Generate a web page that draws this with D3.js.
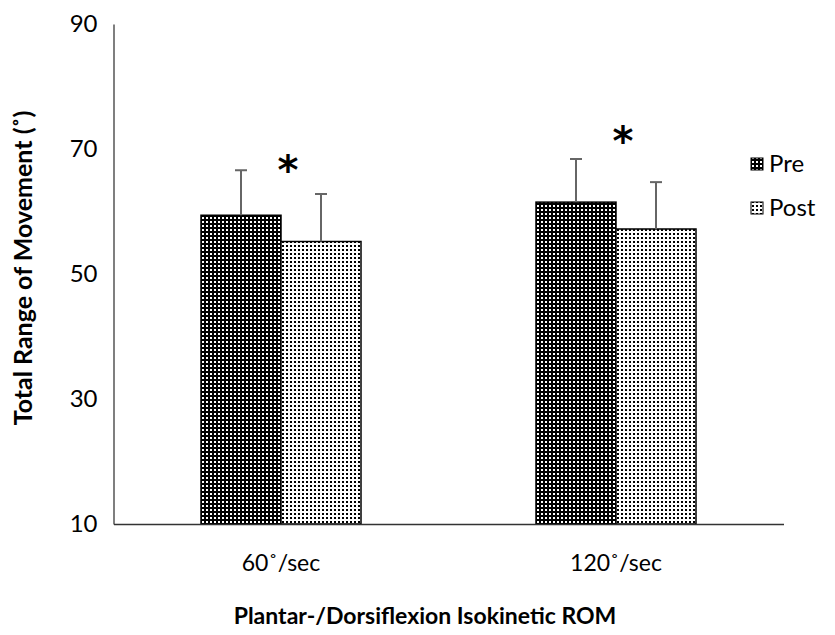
<!DOCTYPE html>
<html>
<head>
<meta charset="utf-8">
<script src="https://cdn.jsdelivr.net/npm/d3@7/dist/d3.min.js"></script>
<style>
  html, body { margin: 0; padding: 0; background: #fff; }
  svg { display: block; font-family: Lato, "Open Sans", sans-serif; }
</style>
</head>
<body>
<svg id="chart" width="835" height="635"></svg>
<script>
// Isokinetic plantar-/dorsiflexion range of movement, before and after
const categories = ["60˚/sec", "120˚/sec"];
const seriesNames = ["Pre", "Post"];
const preMeans = [59.4, 61.5];
const postMeans = [55.2, 57.2];
const preSD = [7.2, 6.9];
const postSD = [7.6, 7.5];
const yTicks = [10, 30, 50, 70, 90];
// significance markers (value-axis position of each asterisk)
const sigLabels = ["*", "*"];
const sigY = [68.3, 73.0];

const svg = d3.select("#chart");

// Hatch fills for the two series
const defs = svg.append("defs");
const pPre = defs.append("pattern").attr("id", "patPre")
  .attr("patternUnits", "userSpaceOnUse").attr("width", 4).attr("height", 4);
pPre.append("rect").attr("width", 4).attr("height", 4).attr("fill", "#000");
pPre.append("rect").attr("x", 1).attr("y", 1).attr("width", 2).attr("height", 2).attr("fill", "#fff");

const pPost = defs.append("pattern").attr("id", "patPost")
  .attr("patternUnits", "userSpaceOnUse").attr("width", 4).attr("height", 4);
pPost.append("rect").attr("width", 4).attr("height", 4).attr("fill", "#fff");
pPost.append("rect").attr("x", 1).attr("y", 1).attr("width", 2).attr("height", 2).attr("fill", "#000");

const fills = { Pre: "url(#patPre)", Post: "url(#patPost)" };

const plot = { left: 113.5, right: 783.5, top: 24, bottom: 524 };

const y = d3.scaleLinear().domain([10, 90]).range([plot.bottom, plot.top]);
const x = d3.scaleBand().domain(categories).range([plot.left, plot.right]).padding(0);
const xs = d3.scaleBand().domain(seriesNames).range([0, 160]);

const rows = categories.map((c, i) => ({
  cat: c,
  bars: [
    { name: "Pre", mean: preMeans[i], sd: preSD[i] },
    { name: "Post", mean: postMeans[i], sd: postSD[i] }
  ]
}));

const groupX = c => x(c) + x.bandwidth() / 2 - 80;

// Y axis (labels only, plain line)
const yAxis = d3.axisLeft(y).tickValues(yTicks).tickSize(0).tickPadding(16);
svg.append("g").attr("transform", `translate(${plot.left},0)`).call(yAxis)
  .call(g => g.select(".domain").attr("stroke", "#555").attr("stroke-width", 1.5))
  .call(g => g.selectAll("text").attr("font-size", 24).attr("fill", "#000")
    .attr("font-family", "Lato, sans-serif"));

// bars
const groups = svg.append("g").selectAll("g").data(rows).join("g")
  .attr("transform", d => `translate(${groupX(d.cat)},0)`);

groups.selectAll("rect").data(d => d.bars).join("rect")
  .attr("x", d => xs(d.name))
  .attr("y", d => y(d.mean))
  .attr("width", xs.bandwidth())
  .attr("height", d => y(10) - y(d.mean))
  .attr("fill", d => fills[d.name])
  .attr("stroke", "#000")
  .attr("stroke-width", 1.5);

// upper error bars
const eb = groups.selectAll("g.err").data(d => d.bars).join("g").attr("class", "err");
eb.append("line")
  .attr("x1", d => xs(d.name) + xs.bandwidth() / 2)
  .attr("x2", d => xs(d.name) + xs.bandwidth() / 2)
  .attr("y1", d => y(d.mean))
  .attr("y2", d => y(d.mean + d.sd))
  .attr("stroke", "#666").attr("stroke-width", 2);
eb.append("line")
  .attr("x1", d => xs(d.name) + xs.bandwidth() / 2 - 6)
  .attr("x2", d => xs(d.name) + xs.bandwidth() / 2 + 6)
  .attr("y1", d => y(d.mean + d.sd))
  .attr("y2", d => y(d.mean + d.sd))
  .attr("stroke", "#666").attr("stroke-width", 2);

// x axis baseline
const xAxis = d3.axisBottom(x).tickSize(0).tickPadding(31);
svg.append("g").attr("transform", `translate(0,${plot.bottom})`).call(xAxis)
  .call(g => g.select(".domain").attr("stroke", "#333").attr("stroke-width", 1.5))
  .call(g => g.selectAll("text").attr("font-size", 23).attr("fill", "#000")
    .attr("font-family", "Lato, sans-serif"));

// significance asterisks
svg.append("g").selectAll("text").data(categories).join("text")
  .attr("x", c => x(c) + x.bandwidth() / 2 + 7)
  .attr("y", (c, i) => y(sigY[i]))
  .attr("dy", "0.62em")
  .attr("text-anchor", "middle")
  .attr("font-family", "DejaVu Sans, sans-serif")
  .attr("font-size", 40)
  .attr("font-weight", "bold")
  .text((c, i) => sigLabels[i]);

// legend
const legend = svg.append("g").attr("transform", "translate(751,164)");
const li = legend.selectAll("g").data(seriesNames).join("g")
  .attr("transform", (d, i) => `translate(0,${i * 44})`);
li.append("rect").attr("x", 0).attr("y", -6).attr("width", 12).attr("height", 12)
  .attr("fill", d => fills[d]).attr("stroke", "#000").attr("stroke-width", 1);
li.append("text").attr("x", 18).attr("y", 0).attr("dy", "0.35em")
  .attr("font-size", 24).text(d => d);

// axis titles
svg.append("text")
  .attr("transform", `translate(32,${(plot.top + plot.bottom) / 2 - 6}) rotate(-90)`)
  .attr("text-anchor", "middle").attr("font-weight", "bold").attr("font-size", 25)
  .text("Total Range of Movement (˚)");

svg.append("text")
  .attr("x", 425).attr("y", 624).attr("text-anchor", "middle")
  .attr("font-weight", "bold").attr("font-size", 23)
  .text("Plantar-/Dorsiflexion Isokinetic ROM");
</script>
</body>
</html>
